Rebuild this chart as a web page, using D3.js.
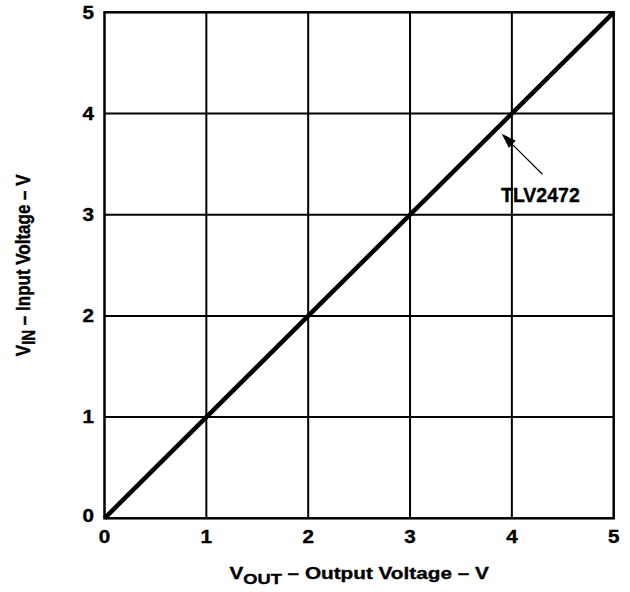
<!DOCTYPE html>
<html>
<head>
<meta charset="utf-8">
<script src="https://cdn.jsdelivr.net/npm/d3@7"></script>
<style>
  html, body { margin: 0; padding: 0; background: #fff; }
  svg text { font-family: "Liberation Sans", Arial, Helvetica, sans-serif; font-weight: bold; fill: #000; stroke: #000; stroke-width: 0.35px; }
</style>
</head>
<body>
<svg id="chart" width="630" height="592"></svg>
<script>
// ---- data ----
const xTicks = [0, 1, 2, 3, 4, 5];
const yTicks = [0, 1, 2, 3, 4, 5];
const vOut = [0, 5];          // output voltage (V)
const vIn = [0, 5];           // input voltage (V)
const seriesName = "TLV2472";
const arrowTip = [3.9, 3.8];
const arrowTail = [4.3, 3.4];
const labelPos = [4.28, 3.13];

const svg = d3.select("#chart");
const pL = 104.5, pR = 613.7, pT = 12.3, pB = 518.3;

const x = d3.scaleLinear().domain([0, 5]).range([pL, pR]);
const y = d3.scaleLinear().domain([0, 5]).range([pB, pT]);

// grid
const g = svg.append("g");
g.selectAll("line.vg").data(xTicks.slice(1, -1)).enter().append("line")
  .attr("x1", d => x(d)).attr("x2", d => x(d))
  .attr("y1", pT).attr("y2", pB)
  .attr("stroke", "#000").attr("stroke-width", 2);
g.selectAll("line.hg").data(yTicks.slice(1, -1)).enter().append("line")
  .attr("y1", d => y(d)).attr("y2", d => y(d))
  .attr("x1", pL).attr("x2", pR)
  .attr("stroke", "#000").attr("stroke-width", 2);

// frame
g.append("rect").attr("x", pL).attr("y", pT)
  .attr("width", pR - pL).attr("height", pB - pT)
  .attr("fill", "none").attr("stroke", "#000").attr("stroke-width", 2.5);

// data line
const pts = vOut.map((v, i) => [v, vIn[i]]);
g.append("path").datum(pts)
  .attr("d", d3.line().x(d => x(d[0])).y(d => y(d[1])))
  .attr("fill", "none").attr("stroke", "#000").attr("stroke-width", 4.5)
  .attr("stroke-linecap", "butt");

// tick labels
svg.selectAll("text.xt").data(xTicks).enter().append("text")
  .attr("transform", d => `translate(${x(d)},542.7) scale(1.18,1)`)
  .attr("text-anchor", "middle").style("font-size", "17.5px")
  .text(d => d);
svg.selectAll("text.yt").data(yTicks).enter().append("text")
  .attr("transform", d => `translate(94,${(d === 0 ? y(d) - 3 : y(d)) + 6.3}) scale(1.18,1)`)
  .attr("text-anchor", "end").style("font-size", "17.5px")
  .text(d => d);

// axis titles
const xt = svg.append("text")
  .attr("transform", `translate(${(pL + pR) / 2},579) scale(1.22,1)`)
  .attr("text-anchor", "middle").style("font-size", "17px");
xt.append("tspan").text("V");
xt.append("tspan").attr("dy", 4.5).style("font-size", "15px").text("OUT");
xt.append("tspan").attr("dy", -4.5).text(" \u2013 Output Voltage \u2013 V");

const yt = svg.append("text")
  .attr("transform", `translate(30,${(pT + pB) / 2}) rotate(-90) scale(1.0,1.2)`)
  .attr("text-anchor", "middle").style("font-size", "17px");
yt.append("tspan").text("V");
yt.append("tspan").attr("dy", 4.5).style("font-size", "15px").text("IN");
yt.append("tspan").attr("dy", -4.5).text(" \u2013 Input Voltage \u2013 V");

// annotation arrow
const tx = x(arrowTip[0]), ty = y(arrowTip[1]);
const sx = x(arrowTail[0]), sy = y(arrowTail[1]);
const ang = Math.atan2(ty - sy, tx - sx);
const hl = 15, hw = 5;
const bx = tx - hl * Math.cos(ang), by = ty - hl * Math.sin(ang);
svg.append("line").attr("x1", sx).attr("y1", sy).attr("x2", bx).attr("y2", by)
  .attr("stroke", "#000").attr("stroke-width", 1.2);
svg.append("path")
  .attr("d", `M${tx},${ty} L${bx + hw * Math.sin(ang)},${by - hw * Math.cos(ang)} L${bx - hw * Math.sin(ang)},${by + hw * Math.cos(ang)} Z`)
  .attr("fill", "#000");
svg.append("text").attr("x", x(labelPos[0])).attr("y", y(labelPos[1]))
  .attr("text-anchor", "middle").style("font-size", "19.5px")
  .text(seriesName);
</script>
</body>
</html>
